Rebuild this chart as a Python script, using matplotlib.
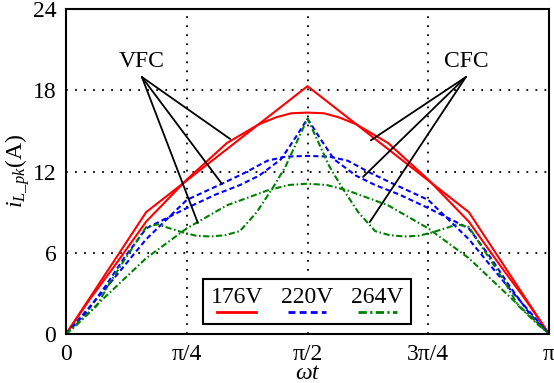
import matplotlib
matplotlib.use('Agg')
import matplotlib.pyplot as plt
import numpy as np
from matplotlib.offsetbox import AnchoredOffsetbox, HPacker, VPacker, TextArea, DrawingArea
from matplotlib.lines import Line2D

plt.rcParams['font.family'] = 'Liberation Serif'
plt.rcParams['mathtext.fontset'] = 'custom'
plt.rcParams['mathtext.rm'] = 'Liberation Serif'
plt.rcParams['mathtext.it'] = 'Liberation Serif:italic'

# omega*t given as a fraction of pi, current in A
red_cfc_t = [0, 0.166, 0.5, 0.834, 1]
red_cfc = [0, 9.0, 18.3, 9.0, 0]

red_vfc_t = [0, 0.05, 0.1, 0.166, 0.25, 0.333, 0.4, 0.435, 0.466, 0.5, 0.534, 0.565, 0.6, 0.667, 0.75, 0.834, 0.9, 0.95, 1]
red_vfc = [0, 2.6, 5.0, 8.3, 11.4, 14.1, 15.5, 16.0, 16.3, 16.35, 16.3, 16.0, 15.5, 14.1, 11.4, 8.3, 5.0, 2.6, 0]

blue_cfc_t = [0, 0.04, 0.083, 0.12, 0.166, 0.25, 0.31, 0.36, 0.4, 0.445, 0.475, 0.5,
              0.525, 0.555, 0.6, 0.64, 0.69, 0.75, 0.834, 0.88, 0.917, 0.96, 1]
blue_cfc = [0, 1.5, 3.6, 5.6, 7.8, 9.3, 10.3, 11.0, 11.7, 12.9, 14.5, 15.9,
            14.5, 12.9, 11.7, 11.0, 10.3, 9.3, 7.8, 5.6, 3.6, 1.5, 0]

blue_vfc_t = [0, 0.083, 0.166, 0.25, 0.323, 0.37, 0.417, 0.455, 0.5, 0.545, 0.583, 0.63, 0.677, 0.75, 0.834, 0.917, 1]
blue_vfc = [0, 3.4, 7.0, 9.9, 11.1, 11.9, 12.8, 13.1, 13.15, 13.1, 12.8, 11.9, 11.1, 9.9, 7.0, 3.4, 0]

green_cfc_t = [0, 0.023, 0.064, 0.091, 0.118, 0.166, 0.19, 0.215, 0.242, 0.27, 0.3, 0.33, 0.36, 0.395,
               0.43, 0.455, 0.478, 0.5, 0.522, 0.545, 0.57, 0.605, 0.64, 0.67, 0.7, 0.73, 0.758, 0.785,
               0.81, 0.834, 0.882, 0.909, 0.936, 0.977, 1]
green_cfc = [0, 0.7, 2.1, 3.8, 5.3, 7.9, 8.1, 7.8, 7.5, 7.25, 7.2, 7.3, 7.6, 9.0,
             10.9, 12.4, 14.2, 15.9, 14.2, 12.4, 10.9, 9.0, 7.6, 7.3, 7.2, 7.25, 7.5, 7.8,
             8.1, 7.9, 5.3, 3.8, 2.1, 0.7, 0]

green_vfc_t = [0, 0.083, 0.166, 0.25, 0.333, 0.417, 0.46, 0.5, 0.54, 0.583, 0.667, 0.75, 0.834, 0.917, 1]
green_vfc = [0, 2.8, 5.6, 7.8, 9.5, 10.6, 11.0, 11.1, 11.0, 10.6, 9.5, 7.8, 5.6, 2.8, 0]

voltages = ['176V', '220V', '264V']
colors = ['#ff0000', '#0000ff', '#008000']
styles = ['-', (0, (2.5, 1.5)), (0, (3, 1.2, 0.8, 1.2))]

# annotation pointers (fraction of pi, A)
vfc_origin = (0.157, 18.98)
vfc_ends = [(0.34, 14.4), (0.323, 11.08), (0.273, 8.2)]
cfc_origin = (0.828, 18.98)
cfc_ends = [(0.631, 14.3), (0.615, 11.6), (0.629, 8.27)]

xtick_pos = [0, 0.25, 0.5, 0.75, 1]
xtick_lab = ['0', 'π/4', 'π/2', '3π/4', 'π']
ytick_pos = [0, 6, 12, 18, 24]

fig = plt.figure(figsize=(5.54, 3.83), dpi=100)
ax = fig.add_axes([66/554, 49/383, 483/554, 325/383])

series = [(red_vfc_t, red_vfc, red_cfc_t, red_cfc),
          (blue_vfc_t, blue_vfc, blue_cfc_t, blue_cfc),
          (green_vfc_t, green_vfc, green_cfc_t, green_cfc)]
for (tv, v, tc, c), col, ls in zip(series, colors, styles):
    ax.plot(np.array(tv)*np.pi, v, color=col, ls=ls, lw=1.5)
    ax.plot(np.array(tc)*np.pi, c, color=col, ls=ls, lw=1.5)

for origin, ends, label in [(vfc_origin, vfc_ends, 'VFC'), (cfc_origin, cfc_ends, 'CFC')]:
    ax.text(origin[0]*np.pi, origin[1]+0.35, label, ha='center', va='bottom', fontsize=17)
    for e in ends:
        ax.annotate('', xy=(e[0]*np.pi, e[1]), xytext=(origin[0]*np.pi, origin[1]),
                    arrowprops=dict(arrowstyle='-', color='black', lw=1.3, shrinkA=0, shrinkB=0))

ax.set_xlim(0, np.pi)
ax.set_ylim(0, 24)
ax.set_xticks(np.array(xtick_pos)*np.pi)
ax.set_xticklabels(xtick_lab)
ax.set_yticks(ytick_pos)
ax.tick_params(length=0, labelsize=17, pad=7)
ax.grid(True, color='black', ls=(0, (1, 4)), lw=1.3)
for s in ax.spines.values():
    s.set_linewidth(1.5)

ax.set_xlabel(r'$\omega t$', fontsize=17)
ax.xaxis.set_label_coords(0.5, -0.09)
ax.set_ylabel(r'$i_{L\_pk}$(A)', fontsize=17)
ax.yaxis.set_label_coords(-0.07, 0.5)

# legend: label above a short line sample
cols = []
for lab, col, ls in zip(voltages, colors, styles):
    da = DrawingArea(28, 6)
    da.add_artist(Line2D([0, 28], [3, 3], color=col, ls=ls, lw=2))
    cols.append(VPacker(children=[TextArea(lab, textprops=dict(fontsize=17)), da],
                        align='center', pad=0, sep=0))
box = AnchoredOffsetbox(loc='center', child=HPacker(children=cols, align='center', pad=0, sep=13),
                        bbox_to_anchor=(0.499, 0.10), bbox_transform=ax.transAxes,
                        frameon=True, pad=0.55, borderpad=0)
box.patch.set_edgecolor('black')
box.patch.set_linewidth(1.5)
box.patch.set_boxstyle('square', pad=0)
ax.add_artist(box)

fig.savefig('out.png', dpi=100)
